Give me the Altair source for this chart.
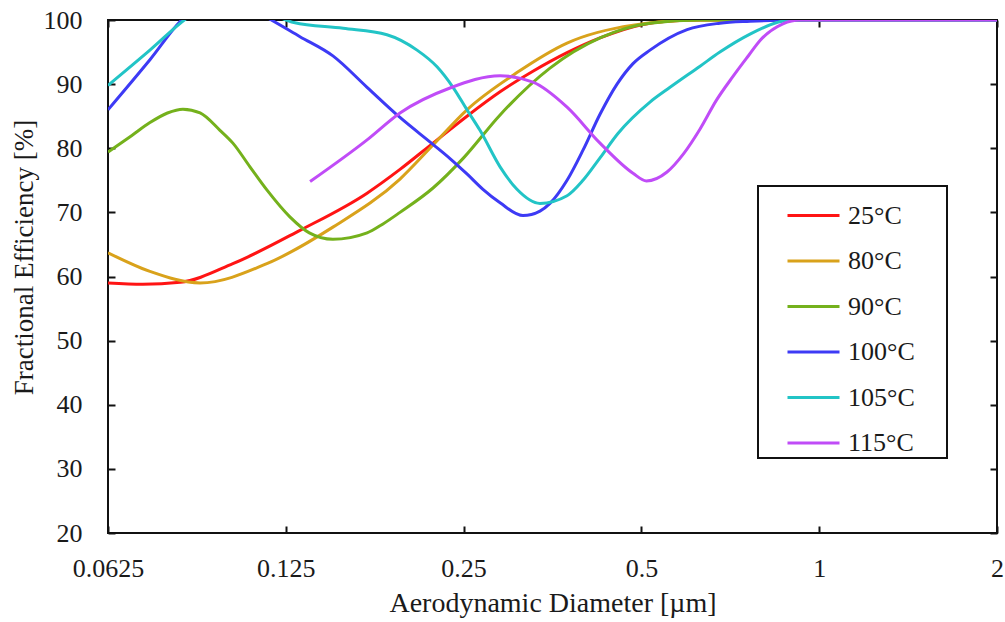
import altair as alt
import pandas as pd

series_names = ["25°C", "80°C", "90°C", "100°C", "105°C", "115°C"]
series_colors = ["#ff1414", "#d9a21b", "#74b11c", "#3d3af5", "#22c4c6", "#c04cf7"]
series_widths = [3, 3, 3, 3, 4, 3]

x_25 = [0.0625, 0.0716, 0.0828, 0.1017, 0.1321, 0.1716, 0.1951, 0.2219, 0.2533, 0.2882, 0.3276, 0.3742,
        0.4255, 0.503, 0.5525, 0.6285, 1.0, 2.0]
y_25 = [59.0, 58.8, 59.1, 62.0, 67.2, 73.0, 76.7, 80.8, 85.0, 88.8, 92.0, 94.9,
        97.2, 99.3, 99.8, 100, 100, 100]

x_80 = [0.0625, 0.0736, 0.0895, 0.1161, 0.1502, 0.1951, 0.2219, 0.2533, 0.3078, 0.3742, 0.4839, 0.6285, 1.0, 2.0]
y_80 = [63.7, 60.8, 59.0, 62.0, 67.7, 75.2, 80.5, 86.0, 91.8, 96.4, 99.2, 100, 100, 100]

x_90 = [0.0625, 0.0686, 0.0736, 0.0788, 0.0837, 0.0895, 0.0967, 0.1017, 0.1087, 0.1161, 0.127, 0.137,
        0.1502, 0.1716, 0.1826, 0.1951, 0.2219, 0.25, 0.2882, 0.3501, 0.4255, 0.517, 0.6285, 1.0, 2.0]
y_90 = [79.4, 82.0, 84.0, 85.5, 86.1, 85.5, 82.8, 80.8, 77.1, 73.5, 69.3, 66.8,
        65.8, 66.8, 68.2, 70.0, 73.8, 78.5, 85.2, 92.5, 97.2, 99.5, 100, 100, 100]

x_100 = [0.0625, 0.0736, 0.0837, 0.1, 0.1161, 0.1321, 0.1502, 0.1716, 0.1951, 0.2219, 0.2371, 0.2533,
         0.2696, 0.2882, 0.3151, 0.3367, 0.3501, 0.3742, 0.3982, 0.4255, 0.4547, 0.4839, 0.517, 0.5975,
         0.679, 0.7636, 0.8925, 1.0, 2.0]
y_100 = [86.0, 93.8, 100.2, 103.5, 100.4, 97.4, 94.4, 89.5, 84.8, 80.6, 78.4, 76.0,
         73.6, 71.5, 69.5, 70.2, 71.4, 75.0, 79.7, 85.3, 90.0, 93.2, 95.3, 98.5,
         99.5, 99.8, 100, 100, 100]

x_105 = [0.0625, 0.0736, 0.085, 0.1, 0.118, 0.129, 0.1563, 0.1854, 0.2085, 0.2254, 0.2399, 0.2533,
         0.2665, 0.2882, 0.3078, 0.3367, 0.3742, 0.3982, 0.4255, 0.4563, 0.517, 0.559, 0.6285, 0.679,
         0.7636, 0.848, 0.8925, 1.0, 2.0]
y_105 = [89.8, 95.3, 100.3, 104.0, 101.0, 99.6, 98.7, 97.7, 95.3, 92.7, 89.5, 86.0,
         82.8, 77.1, 73.6, 71.4, 72.6, 75.0, 78.5, 82.3, 87.2, 89.5, 92.8, 95.0,
         97.8, 99.6, 100, 100, 100]

x_115 = [0.1374, 0.1716, 0.1951, 0.2371, 0.2882, 0.3276, 0.3742, 0.4255, 0.4839, 0.51, 0.5525, 0.59,
         0.6285, 0.67, 0.7146, 0.76, 0.794, 0.868, 0.928, 1.0, 2.0]
y_115 = [74.8, 81.3, 85.5, 89.4, 91.3, 90.3, 86.4, 80.8, 76.1, 74.9, 76.3, 79.2,
         83.0, 87.5, 91.2, 94.5, 96.8, 99.4, 100, 100, 100]

x_ticks = [0.0625, 0.125, 0.25, 0.5, 1, 2]
y_ticks = [20, 30, 40, 50, 60, 70, 80, 90, 100]

xs = [x_25, x_80, x_90, x_100, x_105, x_115]
ys = [y_25, y_80, y_90, y_100, y_105, y_115]
rows = []
for name, xv, yv in zip(series_names, xs, ys):
    for i, (a, b) in enumerate(zip(xv, yv)):
        rows.append({"series": name, "d": a, "eff": b, "order": i})
df = pd.DataFrame(rows)

FONT = "Liberation Serif"
TXT = "#1a1a1a"

xscale = alt.Scale(type="log", base=2, domain=[0.0625, 2], nice=False)
yscale = alt.Scale(domain=[20, 100], nice=False, zero=False)

lines = alt.Chart(df).mark_line(interpolate="monotone", clip=True).encode(
    x=alt.X("d:Q", scale=xscale, title="Aerodynamic Diameter [µm]",
            axis=alt.Axis(orient="bottom", values=x_ticks, labelExpr="datum.value + ''",
                          offset=-7, tickSize=7, tickWidth=2, tickColor="#111", domain=False,
                          grid=False, labelPadding=22, labelFontSize=26, labelFont=FONT,
                          labelColor=TXT, titleFont=FONT, titleFontSize=28, titleFontWeight="normal",
                          titleColor=TXT, titlePadding=8, labelFlush=False)),
    y=alt.Y("eff:Q", scale=yscale, title="Fractional Efficiency [%]",
            axis=alt.Axis(orient="left", values=y_ticks, offset=-7, tickSize=7, tickWidth=2,
                          tickColor="#111", domain=False, grid=False, labelPadding=26,
                          labelFontSize=26, labelFont=FONT, labelColor=TXT, titleFont=FONT,
                          titleFontSize=27, titleFontWeight="normal", titleColor=TXT,
                          titlePadding=5, titleY=237, labelFlush=False)),
    color=alt.Color("series:N", scale=alt.Scale(domain=series_names, range=series_colors),
                    legend=alt.Legend(title=None, orient="none", legendX=650, legendY=166,
                                      symbolType="stroke", symbolSize=2704, symbolStrokeWidth=3,
                                      labelFont=FONT, labelFontSize=26, labelColor=TXT,
                                      labelOffset=7, rowPadding=4.5, padding=2, symbolOffset=26,
                                      strokeColor="#111",
                                      labelExpr="datum.label + '\u2009\u2009\u2800'")),
    strokeWidth=alt.StrokeWidth("series:N", scale=alt.Scale(domain=series_names, range=series_widths),
                                legend=None),
    order="order:Q",
)

frame_ticks = alt.Chart(df).mark_line(opacity=0).encode(
    x=alt.X("d:Q", scale=xscale, title=None,
            axis=alt.Axis(orient="top", values=x_ticks, labels=False, offset=-7, tickSize=7,
                          tickWidth=2, tickColor="#111", domain=False, grid=False)),
    y=alt.Y("eff:Q", scale=yscale, title=None,
            axis=alt.Axis(orient="right", values=y_ticks, labels=False, offset=-7, tickSize=7,
                          tickWidth=2, tickColor="#111", domain=False, grid=False)),
)

chart = alt.layer(lines, frame_ticks).resolve_axis(x="independent", y="independent").resolve_scale(
    x="shared", y="shared"
).properties(
    width=889, height=513,
    autosize=alt.AutoSizeParams(type="none"),
    padding={"left": 108, "top": 20, "right": 8, "bottom": 89},
    background="white",
).configure_view(stroke="#111", strokeWidth=2).configure_legend(strokeWidth=2)

chart.save("out.html", embed_options={"renderer": "svg", "actions": False})
